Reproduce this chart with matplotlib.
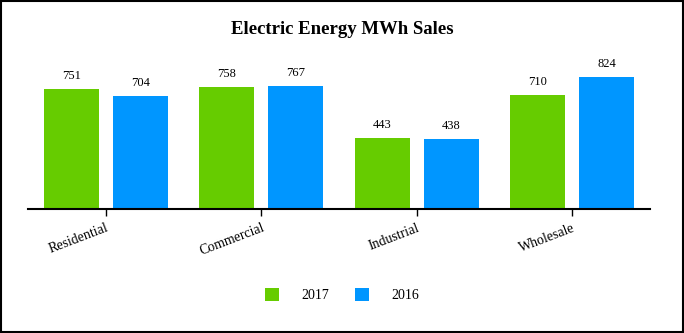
import matplotlib.pyplot as plt
import numpy as np
from matplotlib.patches import Rectangle

# categories and values
categories = ["Residential", "Commercial", "Industrial", "Wholesale"]
sales_2017 = [751, 758, 443, 710]
sales_2016 = [704, 767, 438, 824]

green = "#66cc00"
blue = "#0096ff"

plt.rcParams["font.family"] = ["Liberation Serif", "DejaVu Serif"]

fig = plt.figure(figsize=(6.84, 3.33), dpi=100)
ax = fig.add_axes([28 / 684, 1 - 209 / 333, 622 / 684, 154 / 333])

x = np.arange(len(categories))
w = 0.353
off = 0.221
b1 = ax.bar(x - off, sales_2017, w, color=green, label="2017")
b2 = ax.bar(x + off, sales_2016, w, color=blue, label="2016")

# value labels above bars
for bars in (b1, b2):
    for b in bars:
        ax.annotate(str(int(b.get_height())), (b.get_x() + b.get_width() / 2, b.get_height()),
                    xytext=(0, 5), textcoords="offset points", ha="center", va="bottom", fontsize=9)

ax.set_xlim(-0.5, 3.5)
ax.set_ylim(0, 960)
ax.set_xticks(x)
ax.set_xticklabels(categories, rotation=21, ha="right", rotation_mode="anchor", fontsize=10)
ax.tick_params(axis="x", length=5, width=1, pad=4)
ax.set_yticks([])
for s in ["top", "right", "left"]:
    ax.spines[s].set_visible(False)
ax.spines["bottom"].set_linewidth(1.5)

fig.text(0.5, 1 - 30 / 333, "Electric Energy MWh Sales", ha="center", va="center",
         fontsize=13.5, fontweight="bold")

fig.legend(handles=[b1, b2], loc="center", bbox_to_anchor=(0.5, 1 - 295 / 333), ncol=2,
           frameon=False, fontsize=10, handlelength=1.0, handleheight=1.1,
           columnspacing=1.9, handletextpad=1.6)

# border around the whole figure
fig.patches.append(Rectangle((0.002, 0.003), 0.996, 0.994, transform=fig.transFigure,
                             fill=False, edgecolor="black", linewidth=1.5))

fig.savefig("out.png", dpi=100)
